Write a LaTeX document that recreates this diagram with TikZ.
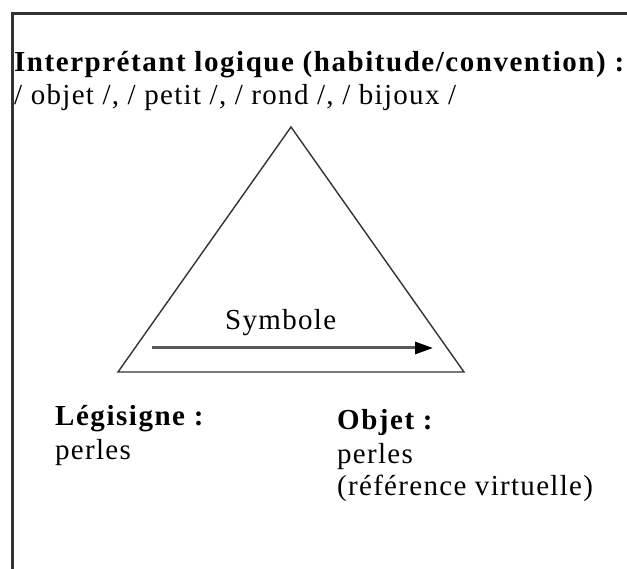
\documentclass[tikz,border=0pt]{standalone}
\usepackage{fontspec}
\setmainfont[LetterSpace=4.5,BoldFeatures={LetterSpace=5.3}]{Liberation Serif}
\usetikzlibrary{arrows.meta}
\begin{document}
\begin{tikzpicture}[x=1pt,y=-1pt,
  txt/.style={inner sep=0pt, anchor=base west, font=\fontsize{29}{33}\selectfont},
  btxt/.style={txt, font=\fontsize{29}{33}\selectfont\bfseries},
  frameline/.style={draw=black!80, line width=2.2pt},
  tri/.style={draw=black!80, line width=1.4pt, line join=miter},
  arr/.style={draw=black!65, line width=3pt, -{Triangle[length=18pt,width=12pt,black]}}]
\useasboundingbox (0,0) rectangle (627,569);
% frame (open on right and bottom)
\coordinate (fb) at (12.5,580);
\coordinate (fc) at (12.5,13.5);
\coordinate (fr) at (640,13.5);
\draw[frameline] (fb) -- (fc) -- (fr);
% texts
\node[btxt] (interp) at (14,72) {Interprétant logique (habitude/convention) :};
\node[txt] (mots) at (14,105) {/ objet /, / petit /, / rond /, / bijoux /};
% triangle
\coordinate (apex) at (291,127);
\coordinate (bl) at (118,372);
\coordinate (br) at (464,372);
\draw[tri] (apex) -- (bl) -- (br) -- cycle;
% arrow
\coordinate (a1) at (152,348);
\coordinate (a2) at (433,348);
\draw[arr] (a1) -- (a2);
\node[txt] (symb) at (225,330) {Symbole};
% bottom labels
\node[btxt] (legi) at (55,426) {Légisigne :};
\node[txt] (perl1) at (55,460) {perles};
\node[btxt] (obj) at (337,430) {Objet :};
\node[txt] (perl2) at (337,464) {perles};
\node[txt] (ref) at (337,495) {(référence virtuelle)};
\end{tikzpicture}
\end{document}
